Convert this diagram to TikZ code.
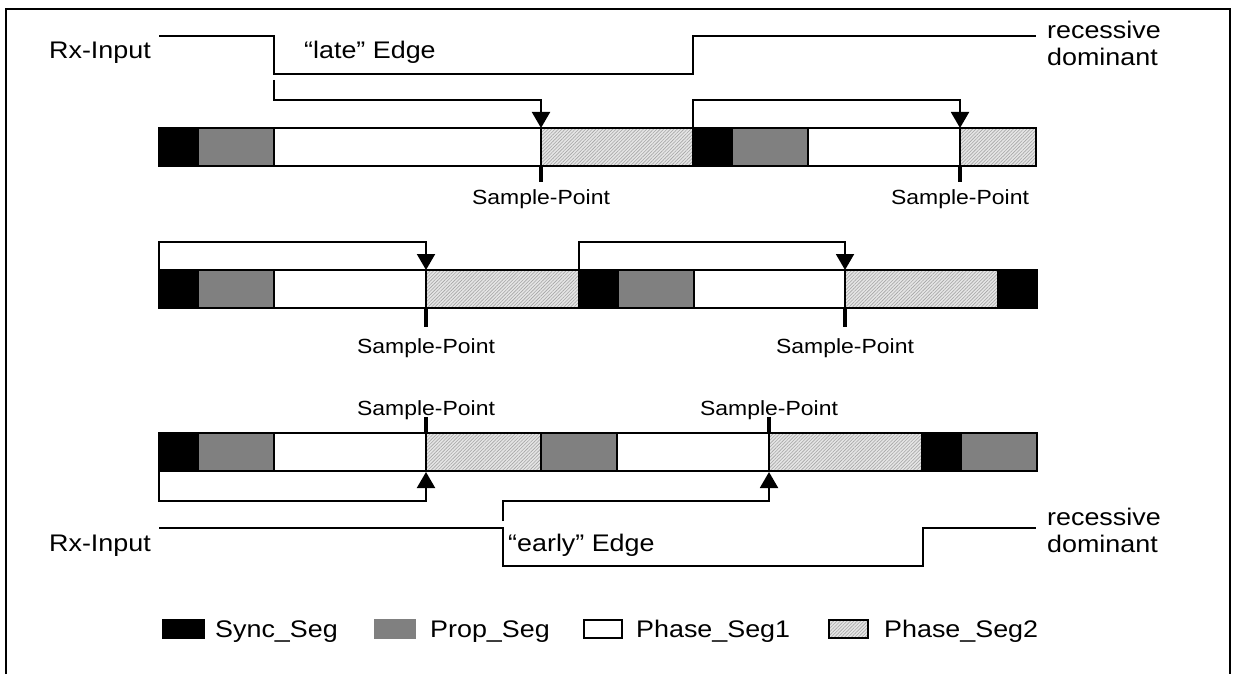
\documentclass[tikz,border=0pt]{standalone}
\usepackage{fontspec}
\setmainfont[FakeStretch=1.12]{Liberation Sans}
\usetikzlibrary{arrows.meta,patterns.meta}
\tikzset{
  frameline/.style={line width=2.6pt},
  segbox/.style={draw=black, line width=2.4pt},
  syncseg/.style={segbox, fill=black},
  propseg/.style={segbox, fill=black!50},
  phaseone/.style={segbox, fill=white},
  phasetwo/.style={segbox, preaction={fill=black!10}, pattern={Lines[angle=45,distance=2.4pt,line width=0.6pt]}, pattern color=black!35},
  signal/.style={line width=2.2pt},
  bracket/.style={line width=2pt, -{Triangle[width=18pt,length=16pt]}},
  sptick/.style={line width=3.5pt},
  lbl/.style={font=\fontsize{24}{28}\selectfont, inner sep=0pt},
  splbl/.style={font=\fontsize{20.5}{24}\selectfont, inner sep=0pt},
}
\begin{document}
\begin{tikzpicture}[x=1pt,y=-1pt]
\useasboundingbox (0,0) rectangle (1238,674);
% frame
\draw[frameline] (6,674) -- (6,9) -- (1230,9) -- (1230,674);

% ---- row 1 ----
\foreach \a/\b/\s in {159/198/syncseg,198/274/propseg,274/541/phaseone,541/693/phasetwo,693/732/syncseg,732/808/propseg,808/960/phaseone,960/1036/phasetwo}
  \draw[\s] (\a,128) rectangle (\b,166);
% ---- row 2 ----
\foreach \a/\b/\s in {159/198/syncseg,198/274/propseg,274/426/phaseone,426/579/phasetwo,579/618/syncseg,618/694/propseg,694/845/phaseone,845/998/phasetwo,998/1037/syncseg}
  \draw[\s] (\a,270) rectangle (\b,308);
% ---- row 3 ----
\foreach \a/\b/\s in {159/198/syncseg,198/274/propseg,274/426/phaseone,426/541/phasetwo,541/617/propseg,617/769/phaseone,769/922/phasetwo,922/961/syncseg,961/1037/propseg}
  \draw[\s] (\a,433) rectangle (\b,471);

% Rx input (top)
\node[lbl, anchor=base west] (rxtop) at (49,59) {Rx-Input};
\coordinate (rta) at (159,36);
\coordinate (rtb) at (274,74);
\coordinate (rtc) at (693,36);
\coordinate (rtd) at (1036,36);
\draw[signal] (rta) -| (rtb) -| (rtc) -- (rtd);
\node[lbl, anchor=base west] (late) at (304,59) {“late” Edge};
\node[lbl, anchor=base west] (rectop) at (1047,39) {recessive};
\node[lbl, anchor=base west] (domtop) at (1047,66) {dominant};

% row 1 brackets
\coordinate (b1s) at (274,80);
\coordinate (sp1) at (541,128);
\coordinate (b2s) at (693,128);
\coordinate (sp2) at (960,128);
\draw[bracket] (b1s) |- (541,100) -- (sp1);
\draw[bracket] (b2s) |- (960,100) -- (sp2);
\draw[sptick] (541,166) -- (541,182);
\draw[sptick] (960,166) -- (960,182);
\node[splbl, anchor=base] (spl1) at (541,204) {Sample-Point};
\node[splbl, anchor=base] (spl2) at (960,204) {Sample-Point};

% row 2 brackets
\coordinate (b3s) at (159,270);
\coordinate (sp3) at (426,270);
\coordinate (b4s) at (579,270);
\coordinate (sp4) at (845,270);
\draw[bracket] (b3s) |- (426,242) -- (sp3);
\draw[bracket] (b4s) |- (845,242) -- (sp4);
\draw[sptick] (426,308) -- (426,327);
\draw[sptick] (845,308) -- (845,327);
\node[splbl, anchor=base] (spl3) at (426,353) {Sample-Point};
\node[splbl, anchor=base] (spl4) at (845,353) {Sample-Point};

% row 3 brackets
\coordinate (b5s) at (159,472);
\coordinate (sp5) at (426,472);
\coordinate (b6s) at (503,521);
\coordinate (sp6) at (769,472);
\draw[bracket] (b5s) |- (426,501) -- (sp5);
\draw[bracket] (b6s) |- (769,501) -- (sp6);
\draw[sptick] (426,417) -- (426,433);
\draw[sptick] (769,417) -- (769,433);
\node[splbl, anchor=base] (spl5) at (426,415) {Sample-Point};
\node[splbl, anchor=base] (spl6) at (769,415) {Sample-Point};

% Rx input (bottom)
\node[lbl, anchor=base west] (rxbot) at (49,551) {Rx-Input};
\coordinate (rba) at (159,528);
\coordinate (rbb) at (503,566);
\coordinate (rbc) at (923,528);
\coordinate (rbd) at (1036,528);
\draw[signal] (rba) -| (rbb) -| (rbc) -- (rbd);
\node[lbl, anchor=base west] (early) at (508,551) {“early” Edge};
\node[lbl, anchor=base west] (recbot) at (1047,525) {recessive};
\node[lbl, anchor=base west] (dombot) at (1047,552) {dominant};

% legend
\draw[fill=black, draw=black, line width=1.5pt] (163,620) rectangle (204,638);
\node[lbl, anchor=base west] (lsync) at (215,637) {Sync\_Seg};
\draw[fill=black!50, draw=black!50, line width=1.5pt] (375,620) rectangle (415,638);
\node[lbl, anchor=base west] (lprop) at (430,637) {Prop\_Seg};
\draw[fill=white, draw=black, line width=2pt] (584,620) rectangle (622,638);
\node[lbl, anchor=base west] (lph1) at (636,637) {Phase\_Seg1};
\draw[phasetwo, line width=2pt] (829,620) rectangle (868,638);
\node[lbl, anchor=base west] (lph2) at (884,637) {Phase\_Seg2};
\end{tikzpicture}
\end{document}
